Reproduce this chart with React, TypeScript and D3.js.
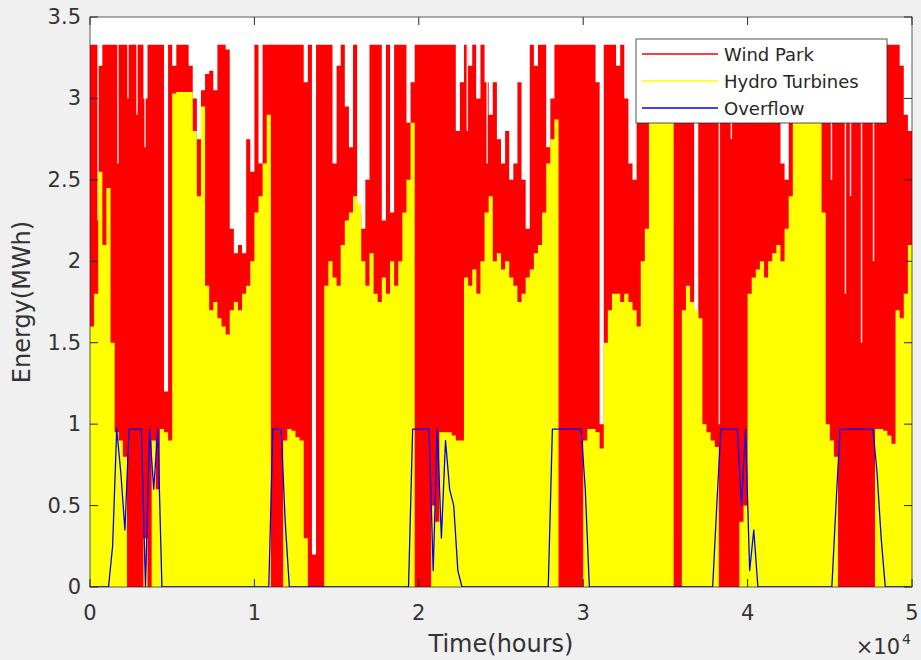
import React from "react";
import { scaleLinear, area, line, curveStepAfter, curveLinear } from "d3";

const binHours = 250;
const xMax = 50000;

const windPark = [
  3.33, 3.33, 3.2, 3.33, 3.33, 3.33, 3.33, 3.33, 3.33, 3.33,
  3.33, 3.33, 3.33, 3.0, 3.33, 3.33, 3.33, 3.33, 1.2, 3.33,
  3.2, 3.33, 3.33, 3.33, 3.2, 3.0, 2.75, 3.05, 3.15, 3.17,
  3.05, 3.33, 3.33, 3.3, 2.2, 2.05, 2.1, 2.05, 2.75, 2.55,
  3.33, 2.6, 3.33, 3.33, 3.33, 3.33, 3.33, 3.33, 3.33, 3.33,
  3.33, 3.33, 3.1, 3.33, 0.2, 3.33, 3.33, 3.33, 3.33, 2.6,
  3.2, 3.33, 2.95, 2.7, 3.33, 2.3, 2.2, 2.5, 3.33, 3.33,
  3.33, 2.25, 3.33, 2.3, 3.33, 3.33, 3.33, 2.85, 3.1, 3.33,
  3.33, 3.33, 3.33, 3.33, 3.33, 3.33, 3.33, 3.33, 3.33, 2.8,
  3.1, 3.33, 3.2, 3.33, 3.0, 3.33, 3.1, 2.9, 3.1, 2.75,
  2.6, 2.8, 2.5, 2.6, 3.1, 2.5, 2.2, 3.33, 3.2, 3.33,
  3.33, 2.7, 3.0, 3.33, 3.33, 3.33, 3.33, 3.33, 3.33, 3.33,
  3.33, 3.33, 3.33, 3.1, 1.0, 3.33, 3.33, 3.33, 3.2, 3.33,
  3.0, 2.6, 2.5, 3.33, 3.33, 3.33, 3.33, 3.33, 3.33, 3.33,
  3.33, 3.33, 3.33, 3.33, 3.33, 3.33, 3.33, 1.5, 3.33, 3.33,
  3.33, 3.33, 3.33, 3.33, 3.33, 3.33, 3.33, 3.33, 3.33, 3.33,
  3.2, 3.33, 3.1, 3.33, 3.0, 3.33, 3.2, 3.33, 2.6, 2.5,
  3.33, 3.33, 3.33, 3.33, 3.33, 3.33, 3.33, 3.33, 3.33, 3.33,
  3.0, 3.33, 3.33, 3.33, 3.33, 3.1, 3.33, 3.33, 3.33, 3.33,
  3.33, 3.33, 3.33, 3.33, 3.33, 3.33, 3.33, 3.2, 2.9, 2.8,
];

// short dips of the wind output (thin white gaps in the red)
const windDipHours = [
  490, 1700, 2310, 2860, 3350, 22950, 23550, 24160,
  35420, 38280, 39010, 45100, 45950, 46260, 46930, 47660,
];
const windDipValues = [
  2.25, 2.6, 3.0, 2.9, 2.7, 2.8, 3.0, 2.6,
  0.3, 1.0, 2.75, 2.5, 1.8, 2.4, 1.5, 2.0,
];

const hydroTurbines = [
  1.6, 1.8, 2.55, 2.1, 2.45, 1.5, 0.95, 0.9, 0.8, 0,
  0, 0, 0, 0.3, 0, 0.9, 0.6, 0.97, 0.95, 0.9,
  3.03, 3.04, 3.04, 3.04, 3.04, 2.8, 2.4, 2.95, 1.85, 1.7,
  1.75, 1.65, 1.6, 1.55, 1.7, 1.75, 1.7, 1.8, 1.85, 2.0,
  2.3, 2.4, 2.6, 2.9, 0, 0, 0, 0.9, 0.97, 0.96,
  0.92, 0.9, 0.3, 0, 0, 0, 0, 1.85, 2.0, 1.9,
  1.85, 2.1, 2.25, 2.3, 2.4, 2.35, 2.0, 1.85, 2.05, 1.8,
  1.75, 1.9, 1.8, 2.0, 1.85, 2.0, 2.3, 2.5, 2.85, 0,
  0, 0, 0, 0.5, 0.4, 0.95, 0.95, 0.95, 0.93, 0.9,
  0.9, 1.9, 1.85, 1.95, 1.8, 2.0, 2.3, 2.4, 2.0, 2.05,
  1.95, 2.0, 1.9, 1.85, 1.75, 1.8, 1.9, 1.95, 2.05, 2.1,
  2.3, 2.6, 2.75, 2.87, 0, 0, 0, 0, 0, 0,
  0.9, 0.97, 0.97, 0.95, 0.85, 1.5, 1.7, 1.8, 1.8, 1.75,
  1.8, 1.75, 1.7, 1.6, 2.0, 2.2, 2.95, 2.95, 2.95, 2.95,
  2.95, 2.9, 0, 0, 1.7, 1.85, 1.75, 1.7, 1.65, 1.0,
  0.95, 0.9, 0.86, 0, 0, 0, 0, 0, 0.4, 0.5,
  1.8, 1.9, 1.95, 2.0, 1.9, 2.0, 2.05, 2.1, 2.0, 2.2,
  2.4, 2.95, 3.0, 3.0, 3.0, 3.0, 2.95, 2.9, 2.3, 1.0,
  0.9, 0.8, 0, 0, 0, 0, 0, 0, 0, 0,
  0, 0.97, 0.97, 0.96, 0.93, 0.88, 1.7, 1.65, 1.8, 2.1,
];

const overflow = [
  0, 0, 0, 0, 0, 0.25, 0.97, 0.7, 0.35, 0.97,
  0.97, 0.97, 0.97, 0, 0.97, 0.6, 0.97, 0, 0, 0,
  0, 0, 0, 0, 0, 0, 0, 0, 0, 0,
  0, 0, 0, 0, 0, 0, 0, 0, 0, 0,
  0, 0, 0, 0, 0.97, 0.97, 0.97, 0.4, 0, 0,
  0, 0, 0, 0, 0, 0, 0, 0, 0, 0,
  0, 0, 0, 0, 0, 0, 0, 0, 0, 0,
  0, 0, 0, 0, 0, 0, 0, 0, 0.97, 0.97,
  0.97, 0.97, 0.97, 0.1, 0.97, 0.3, 0.9, 0.6, 0.5, 0.1,
  0, 0, 0, 0, 0, 0, 0, 0, 0, 0,
  0, 0, 0, 0, 0, 0, 0, 0, 0, 0,
  0, 0, 0.97, 0.97, 0.97, 0.97, 0.97, 0.97, 0.97, 0.97,
  0.6, 0, 0, 0, 0, 0, 0, 0, 0, 0,
  0, 0, 0, 0, 0, 0, 0, 0, 0, 0,
  0, 0, 0, 0, 0, 0, 0, 0, 0, 0,
  0, 0, 0.5, 0.97, 0.97, 0.97, 0.97, 0.97, 0.5, 0.97,
  0.1, 0.35, 0, 0, 0, 0, 0, 0, 0, 0,
  0, 0, 0, 0, 0, 0, 0, 0, 0, 0,
  0, 0.5, 0.97, 0.97, 0.97, 0.97, 0.97, 0.97, 0.97, 0.97,
  0.97, 0.7, 0.3, 0, 0, 0, 0, 0, 0, 0,
];

const xTicks = [0, 10000, 20000, 30000, 40000, 50000];
const xTickLabels = ["0", "1", "2", "3", "4", "5"];
const yTicks = [0, 0.5, 1, 1.5, 2, 2.5, 3, 3.5];
const yTickLabels = ["0", "0.5", "1", "1.5", "2", "2.5", "3", "3.5"];

const seriesNames = ["Wind Park", "Hydro Turbines", "Overflow"];
const seriesColors = ["#ff0000", "#ffff00", "#0000ff"];

const W = 921;
const H = 660;
const font = "DejaVu Sans, sans-serif";
const axisColor = "#262626";

export default function App() {
  const x = scaleLinear().domain([0, xMax]).range([90, 912]);
  const y = scaleLinear().domain([0, 3.5]).range([587, 17]);

  const toSteps = (vals: number[]) => {
    const pts = vals.map((v, i) => [i * binHours, v] as [number, number]);
    pts.push([xMax, vals[vals.length - 1]]);
    return pts;
  };

  const stepArea = area<[number, number]>()
    .x((d) => x(d[0]))
    .y0(y(0))
    .y1((d) => y(d[1]))
    .curve(curveStepAfter);

  const overflowLine = line<number>()
    .x((_, i) => x(i * binHours + binHours / 2))
    .y((d) => y(d))
    .curve(curveLinear);

  const [x0, x1] = x.range();
  const [yb, yt] = y.range();
  const tick = 8;

  return (
    <svg
      width={W}
      height={H}
      style={{ position: "absolute", left: 0, top: 0, background: "#f0f0f0" }}
      fontFamily={font}
    >
      <defs>
        <clipPath id="plotClip">
          <rect x={x0} y={yt} width={x1 - x0} height={yb - yt} />
        </clipPath>
      </defs>
      <rect x={0} y={0} width={W} height={H} fill="#f0f0f0" />
      <rect x={x0} y={yt} width={x1 - x0} height={yb - yt} fill="#ffffff" />

      <g clipPath="url(#plotClip)">
        <path d={stepArea(toSteps(windPark)) ?? ""} fill={seriesColors[0]} />
        {windDipHours.map((h, i) => (
          <line
            key={"dip" + i}
            x1={x(h)}
            x2={x(h)}
            y1={yt}
            y2={y(windDipValues[i])}
            stroke="#ffffff"
            strokeOpacity={0.85}
            strokeWidth={1.5}
          />
        ))}
        <path d={stepArea(toSteps(hydroTurbines)) ?? ""} fill={seriesColors[1]} />
        <path
          d={overflowLine(overflow) ?? ""}
          fill="none"
          stroke={seriesColors[2]}
          strokeWidth={1.3}
          strokeLinejoin="round"
        />
      </g>

      {/* box + ticks */}
      <rect
        x={x0}
        y={yt}
        width={x1 - x0}
        height={yb - yt}
        fill="none"
        stroke={axisColor}
        strokeOpacity={0.75}
        strokeWidth={1}
      />
      {xTicks.map((t, i) => (
        <g key={"xt" + i}>
          <line x1={x(t)} x2={x(t)} y1={yb} y2={yb - tick} stroke={axisColor} />
          <line x1={x(t)} x2={x(t)} y1={yt} y2={yt + tick} stroke={axisColor} />
          <text
            x={x(t)}
            y={613}
            fontSize={21}
            fill="#333"
            textAnchor="middle"
            dominantBaseline="central"
          >
            {xTickLabels[i]}
          </text>
        </g>
      ))}
      {yTicks.map((t, i) => (
        <g key={"yt" + i}>
          <line x1={x0} x2={x0 + tick} y1={y(t)} y2={y(t)} stroke={axisColor} />
          <line x1={x1} x2={x1 - tick} y1={y(t)} y2={y(t)} stroke={axisColor} />
          <text
            x={81}
            y={y(t)}
            fontSize={21}
            fill="#333"
            textAnchor="end"
            dominantBaseline="central"
          >
            {yTickLabels[i]}
          </text>
        </g>
      ))}

      <text x={(x0 + x1) / 2} y={652} fontSize={24} fill="#333" textAnchor="middle">
        Time(hours)
      </text>
      <text
        transform={`translate(30,${(yb + yt) / 2}) rotate(-90)`}
        fontSize={24}
        fill="#333"
        textAnchor="middle"
      >
        Energy(MWh)
      </text>
      <text x={900} y={654} fontSize={21} fill="#333" textAnchor="end">
        ×10
      </text>
      <text x={902} y={644} fontSize={14} fill="#333">
        4
      </text>

      {/* legend */}
      <g>
        <rect x={636} y={39} width={251} height={84} fill="#ffffff" stroke={axisColor} strokeOpacity={0.8} />
        {seriesNames.map((name, i) => {
          const ly = 54 + i * 27;
          return (
            <g key={name}>
              <line x1={642} x2={718} y1={ly} y2={ly} stroke={seriesColors[i]} strokeWidth={1.5} />
              <text x={724} y={ly} fontSize={18} fill="#262626" dominantBaseline="central">
                {name}
              </text>
            </g>
          );
        })}
      </g>
    </svg>
  );
}
